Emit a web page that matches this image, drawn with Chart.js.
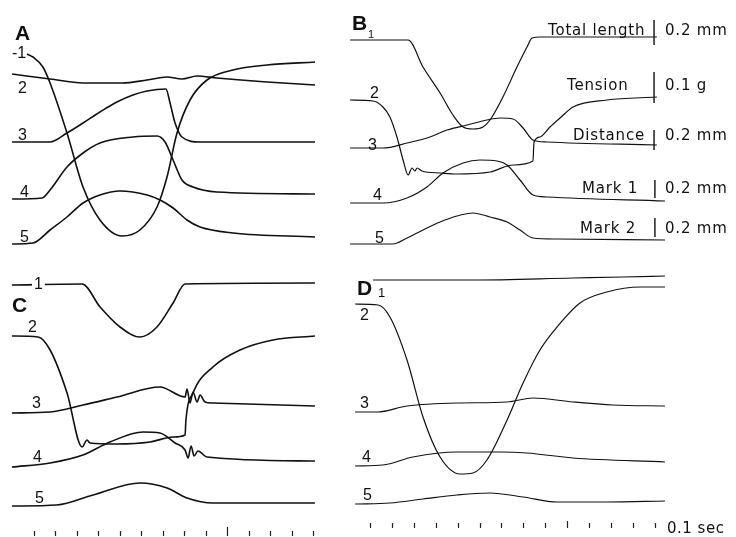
<!DOCTYPE html>
<html>
<head>
<meta charset="utf-8">
<script src="https://cdn.jsdelivr.net/npm/chart.js@4/dist/chart.umd.min.js"></script>
<style>
  body { margin: 0; background: #fff; }
  #wrap { position: relative; width: 736px; height: 537px; overflow: hidden; background: #fff; }
  #wrap canvas { position: absolute; }
</style>
</head>
<body>
<div id="wrap">
  <canvas id="cA" width="340" height="260" style="left:0;top:0"></canvas>
  <canvas id="cB" width="396" height="260" style="left:340px;top:0"></canvas>
  <canvas id="cC" width="340" height="267" style="left:0;top:270px"></canvas>
  <canvas id="cD" width="396" height="267" style="left:340px;top:270px"></canvas>
</div>
<script>
// time in ms, value in recorder units (upwards)
// panel A
const A1 = [[-3.2,82.4],[-0.5,81.2],[4.1,77.2],[7.4,70.8],[15.2,50.8],[22.6,29.2],[30.4,16],[40.6,9.6],[48.8,12],[56.7,21.2],[61.3,33.2],[65.9,50.8],[71.9,64],[79.7,72],[91.7,76],[107.4,78],[129.5,79.2]];
const A2 = [[-10.1,74.4],[7.4,72.4],[22.6,70.8],[40.6,70.8],[52.1,72],[61.3,73.2],[68.2,72.4],[75.1,73.6],[84.3,72.8],[107.4,71.2],[129.5,70]];
const A3 = [[-10.1,47.2],[7.4,47.2],[15.2,50.8],[22.6,54.8],[30.4,59.2],[38.2,63.2],[45.6,66],[52.1,67.6],[60.8,68.4],[62.7,62.8],[65,54.8],[68.2,49.2],[76.5,47.2],[129.5,47.2]];
const A4 = [[-10.1,24.4],[3.7,24.8],[7.4,28],[15.2,37.2],[22.6,42.8],[30.4,46.8],[45.6,49.2],[56.7,49.6],[60.4,47.2],[64.1,40],[68.2,32],[73.3,29.2],[84.3,27.2],[129.5,26.4]];
const A5 = [[-10.1,6.4],[-0.5,6.8],[7.4,12],[15.2,17.2],[22.6,22.8],[30.4,26],[39.6,27.6],[52.1,26],[58.1,24],[64.1,20.8],[70.5,16],[76.5,13.2],[91.7,10.8],[129.5,9.2]];

// panel B1
const B1 = [[-9.1,88],[17.4,88],[24.2,77.2],[32,66.8],[37.9,58],[42.5,53.2],[47,52.4],[51.6,53.2],[54.8,56],[60.7,65.2],[67.1,77.2],[71.7,85.2],[74,88.8],[77.6,89.2],[131,89.2]];
const B2 = [[-9.1,64],[1.4,63.6],[5.9,61.2],[9.1,57.2],[12.3,49.2],[15.1,40],[17.4,34],[19.2,36.8],[20.5,35.6],[21.5,36.8],[23.7,35.6],[32,34.8],[39.7,34.4],[54.8,35.2],[65.3,38],[74.4,39.6],[74.9,47.2],[77.6,49.2],[82.2,53.2],[86.8,56.8],[92.7,61.2],[108.2,64],[131,65.2]];
const B3 = [[-9.1,44.8],[5.9,44.8],[16.9,46.8],[27.4,49.2],[35.2,52],[44.3,54],[53.4,56],[59.4,56.8],[65.3,56.4],[69.9,52.8],[74.4,48],[80.8,47.2],[131,46]];
const B4 = [[-9.1,22.8],[5.9,22.8],[16.9,24.8],[26,29.2],[33.3,34.8],[42.5,38.8],[50.2,40],[58,39.6],[62.6,38],[68.5,32],[74.4,26],[80.8,25.2],[134.7,23.6]];
const B5 = [[-9.1,6.4],[10.5,6.4],[16.9,8.8],[24.2,12],[32,15.2],[39.7,17.6],[47,18.8],[54.8,17.2],[62.6,15.2],[68.5,12],[74.4,8.8],[85.4,8.4],[134.7,8]];
// calibration bars of B1: [time, top, bottom]
const B_BARS = [[129.7,96,86],[129.7,75.2,62.8],[129.7,52,44],[130.1,32,24.8],[130.1,16.8,9.2]];
const B_NAMES = ['Total length', 'Tension', 'Distance', 'Mark 1', 'Mark 2'];
const B_UNITS = ['0.2 mm', '0.1 g', '0.2 mm', '0.2 mm', '0.2 mm'];

// panel C
const C1 = [[-10.3,100.8],[22.4,101.2],[30.8,92],[40.1,84],[49.4,80],[57.3,84],[64.8,93.6],[70.4,101.2],[130.9,101.6]];
const C2 = [[-10.3,80.4],[1.9,80],[7.5,74.8],[15.4,57.6],[22.4,36],[24.7,38.8],[26.1,37.6],[38.7,37.2],[54.1,38],[64.8,40],[70.4,40.8],[70.8,46.8],[74.1,57.6],[83.4,68],[96,74.8],[111.4,78.8],[130.9,80.4]];
const C3 = [[-10.3,49.6],[7.5,50],[22.8,52.8],[38.7,56],[58.7,60],[70.4,56],[71.3,59.2],[72.7,53.6],[74.1,58],[76,54],[77.4,56.8],[79.7,54],[83.4,53.6],[130.9,52.4]];
const C4 = [[-10.3,28],[7.5,29.6],[22.8,32.8],[35.4,38],[50.8,42],[58.7,41.6],[65.7,37.6],[70.4,34.8],[71.8,31.6],[73.2,36.4],[74.6,32.4],[76.4,34.4],[80.6,32],[130.9,30.4]];
const C5 = [[-10.3,12.4],[10.7,12.8],[27.5,16.8],[49.4,21.6],[62,19.6],[71.3,15.6],[83.4,13.6],[130.9,13.6]];

// panel D
const D1 = [[1.4,102.8],[47,102.8],[92.7,103.6],[115.5,104],[134.7,104.4]];
const D2 = [[-6.8,93.2],[3.7,92.8],[9.1,88],[16.9,70.8],[24.2,48],[32,32],[41.1,25.2],[47,25.6],[53.4,30.8],[62.6,46.8],[69.9,61.6],[77.6,74.8],[85.4,84],[95.9,93.6],[108.2,98],[123.3,100],[134.7,100]];
const D3 = [[-6.8,50],[3.2,50],[16.9,52.4],[39.7,53.6],[62.6,54],[74.4,55.6],[92.7,54],[111,52.8],[134.7,52.4]];
const D4 = [[-6.8,28.4],[5.9,28.8],[19.6,32],[39.7,34],[59.4,34],[71.7,33.6],[92.7,31.6],[134.7,30]];
const D5 = [[-6.8,13.2],[9.1,13.6],[24.2,15.2],[39.7,16.8],[54.8,17.6],[69.9,16],[85.4,14],[108.2,14],[134.7,14.4]];

// time marks every 10 ms, the 90 ms one is longer
const TIME_TICKS = [0, 10, 20, 30, 40, 50, 60, 70, 80, 90, 100, 110, 120, 130];
const LONG_TICK = 90;

const Y_PER_PX = 0.4;
const NUM = '16px "Liberation Sans", Arial, sans-serif';
const BIG = 'bold 21px "Liberation Sans", Arial, sans-serif';
const LAB = '15px "DejaVu Sans", sans-serif';

// text: page px, alphabetic baseline
const textA = [
  { t: 'A', x: 15, y: 40, font: BIG },
  { t: '-1', x: 12, y: 58, font: NUM },
  { t: '2', x: 18, y: 93, font: NUM },
  { t: '3', x: 18, y: 140, font: NUM },
  { t: '4', x: 20, y: 197, font: NUM },
  { t: '5', x: 20, y: 242, font: NUM }
];
const textB = [
  { t: 'B', x: 352, y: 30, font: BIG },
  { t: '1', x: 368, y: 38, font: '11px "Liberation Sans", Arial, sans-serif' },
  { t: '2', x: 370, y: 98, font: NUM },
  { t: '3', x: 368, y: 150, font: NUM },
  { t: '4', x: 373, y: 200, font: NUM },
  { t: '5', x: 375, y: 243, font: NUM }
];
const nameX = [548, 567, 573, 582, 580];
const nameY = [35, 90, 140, 193, 233];
B_NAMES.forEach((n, i) => {
  textB.push({ t: n, x: nameX[i], y: nameY[i], font: LAB, sp: '0.8px' });
  textB.push({ t: B_UNITS[i], x: 665, y: nameY[i], font: LAB, sp: '0.8px' });
});
const textC = [
  { t: 'C', x: 12, y: 312, font: BIG },
  { t: '1', x: 34, y: 289, font: NUM, bg: true },
  { t: '2', x: 28, y: 332, font: NUM },
  { t: '3', x: 32, y: 408, font: NUM },
  { t: '4', x: 33, y: 462, font: NUM },
  { t: '5', x: 35, y: 503, font: NUM }
];
const textD = [
  { t: 'D', x: 357, y: 295, font: BIG },
  { t: '1', x: 378, y: 297, font: '13px "Liberation Sans", Arial, sans-serif' },
  { t: '2', x: 360, y: 320, font: NUM },
  { t: '3', x: 360, y: 408, font: NUM },
  { t: '4', x: 362, y: 462, font: NUM },
  { t: '5', x: 363, y: 500, font: NUM },
  { t: '0.1 sec', x: 667, y: 533, font: LAB, sp: '0.5px' }
];

const panels = [
  { id: 'cA', left: 0, top: 0, w: 340, h: 260, x0: 34, k: 2.17, lw: 1.6, traces: [A1, A2, A3, A4, A5], text: textA },
  { id: 'cB', left: 340, top: 0, w: 396, h: 260, x0: 370, k: 2.19, lw: 1.2, traces: [B1, B2, B3, B4, B5], bars: B_BARS, text: textB },
  { id: 'cC', left: 0, top: 270, w: 340, h: 267, x0: 34, k: 2.146, lw: 1.6, traces: [C1, C2, C3, C4, C5], text: textC, ticks: [0.4, 2.4, 4] },
  { id: 'cD', left: 340, top: 270, w: 396, h: 267, x0: 370, k: 2.19, lw: 1.2, traces: [D1, D2, D3, D4, D5], text: textD, ticks: [3.6, 5.6, 6.4] }
];

const decor = {
  id: 'decor',
  afterDatasetsDraw(chart, args, opts) {
    const ctx = chart.ctx;
    const p = opts.panel;
    ctx.save();
    if (p.ticks) {
      const xs = chart.scales.x, ys = chart.scales.y;
      ctx.strokeStyle = '#222';
      ctx.lineWidth = 1.2;
      TIME_TICKS.forEach(t => {
        const px = Math.round(xs.getPixelForValue(t)) + 0.5;
        ctx.beginPath();
        ctx.moveTo(px, ys.getPixelForValue(p.ticks[0]));
        ctx.lineTo(px, ys.getPixelForValue(t === LONG_TICK ? p.ticks[2] : p.ticks[1]));
        ctx.stroke();
      });
    }
    ctx.fillStyle = '#111';
    ctx.textBaseline = 'alphabetic';
    p.text.forEach(it => {
      ctx.font = it.font;
      ctx.letterSpacing = it.sp || '0px';
      const x = it.x - p.left, y = it.y - p.top;
      if (it.bg) {
        const w = ctx.measureText(it.t).width;
        ctx.fillStyle = '#fff';
        ctx.fillRect(x - 2, y - 12, w + 4, 13);
        ctx.fillStyle = '#111';
      }
      ctx.fillText(it.t, x, y);
    });
    ctx.restore();
  }
};

panels.forEach(p => {
  const sets = p.traces.map(tr => ({
    data: tr.map(([x, y]) => ({ x, y })),
    borderColor: '#111',
    borderWidth: p.lw,
    pointRadius: 0,
    fill: false,
    cubicInterpolationMode: 'monotone'
  }));
  (p.bars || []).forEach(([t, a, b]) => {
    sets.push({
      data: [{ x: t, y: a }, { x: t, y: b }],
      borderColor: '#111',
      borderWidth: 1.4,
      pointRadius: 0,
      fill: false
    });
  });
  new Chart(document.getElementById(p.id), {
    type: 'line',
    data: { datasets: sets },
    options: {
      responsive: false,
      animation: false,
      events: [],
      layout: { padding: 0 },
      plugins: { legend: { display: false }, tooltip: { enabled: false }, decor: { panel: p } },
      scales: {
        x: { type: 'linear', display: false, min: (p.left - p.x0) / p.k, max: (p.left + p.w - p.x0) / p.k },
        y: { display: false, min: 0, max: p.h * Y_PER_PX }
      }
    },
    plugins: [decor]
  });
});
</script>
</body>
</html>
